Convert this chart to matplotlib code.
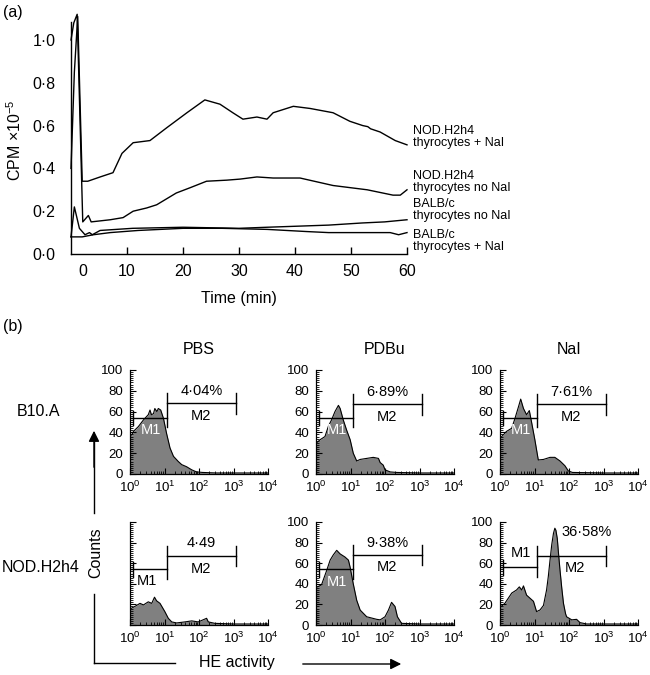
import numpy as np
import matplotlib
matplotlib.use('Agg')
import matplotlib.pyplot as plt
from matplotlib.lines import Line2D
from matplotlib.ticker import MultipleLocator, LogLocator, NullFormatter

plt.rcParams['font.family'] = ['Liberation Sans', 'DejaVu Sans']
plt.rcParams['mathtext.fontset'] = 'custom'
plt.rcParams['mathtext.rm'] = 'Liberation Sans'
plt.rcParams['mathtext.it'] = 'Liberation Sans:italic'
plt.rcParams['mathtext.bf'] = 'Liberation Sans:bold'

# ---------------- Panel (a) data ----------------
time_nod_nai = [0, 0.6, 1.2, 2.0, 3.0, 5.2, 7.5, 9.1, 11.1, 14.1, 17.1, 20.7, 23.9, 26.6, 28.9,
                30.7, 33.2, 35.0, 36.1, 39.7, 42.7, 46.8, 49.8, 52.1, 53.0, 53.5, 55.2, 57.9, 60]
cpm_nod_nai = [0.40, 0.85, 1.11, 0.34, 0.34, 0.36, 0.38, 0.47, 0.52, 0.53, 0.59, 0.66, 0.72, 0.70, 0.66,
               0.63, 0.64, 0.63, 0.66, 0.69, 0.68, 0.66, 0.62, 0.60, 0.595, 0.585, 0.57, 0.53, 0.51]

time_nod_no = [0, 0.5, 1.1, 2.1, 3.1, 3.6, 7.0, 9.3, 11.1, 13.5, 15.3, 18.8, 21.3, 24.2, 27.8,
               30.2, 33.2, 36.1, 40.9, 46.8, 52.9, 57.5, 58.8, 60]
cpm_nod_no = [1.00, 1.08, 1.12, 0.15, 0.18, 0.15, 0.16, 0.17, 0.20, 0.215, 0.23, 0.285, 0.31, 0.34, 0.345,
              0.35, 0.36, 0.355, 0.355, 0.32, 0.30, 0.275, 0.275, 0.30]

time_balb_no = [0, 0.6, 1.5, 2.5, 3.3, 3.8, 5.2, 11.0, 20.0, 30.0, 35.0, 46.0, 52.0, 56.0, 60]
cpm_balb_no = [0.08, 0.22, 0.12, 0.09, 0.10, 0.09, 0.11, 0.12, 0.125, 0.12, 0.125, 0.135, 0.145, 0.15, 0.16]

time_balb_nai = [0, 2.0, 4.0, 7.0, 12.0, 20.0, 27.0, 35.0, 42.0, 46.0, 52.0, 57.0, 58.5, 60]
cpm_balb_nai = [0.08, 0.08, 0.09, 0.10, 0.11, 0.12, 0.12, 0.115, 0.105, 0.10, 0.10, 0.10, 0.09, 0.10]

curve_labels = ['NOD.H2h4\nthyrocytes + NaI', 'NOD.H2h4\nthyrocytes no NaI',
                'BALB/c\nthyrocytes no NaI', 'BALB/c\nthyrocytes + NaI']
yticks_a = [0.0, 0.2, 0.4, 0.6, 0.8, 1.0]
xticks_a = [10, 20, 30, 40, 50, 60]

# ---------------- Panel (b) data (x in log10 units) ----------------
b10_pbs_lx = [0, 0.05, 0.1, 0.24, 0.39, 0.53, 0.58, 0.62, 0.68, 0.72, 0.78, 0.82, 0.89, 0.97, 1.06,
              1.16, 1.26, 1.4, 1.5, 1.64, 1.79, 1.93, 2.1, 2.5, 3.0, 3.5, 4.0]
b10_pbs_ct = [37, 37.5, 41, 45.5, 52, 57, 61.5, 57, 58, 63, 60, 63, 61.5, 53.5, 39,
              25, 17, 12, 9, 7, 4, 2, 1.5, 1, 1, 1, 1]

b10_pdbu_lx = [0, 0.02, 0.12, 0.26, 0.36, 0.45, 0.55, 0.65, 0.7, 0.79, 0.89, 0.99, 1.08, 1.18,
               1.28, 1.47, 1.66, 1.81, 1.86, 1.95, 2.0, 2.15, 2.34, 3.0, 4.0]
b10_pdbu_ct = [28, 30, 33, 36, 46, 52, 60, 66, 63, 52, 42, 33, 20, 12.5,
               14, 15, 16, 15, 11, 8.5, 4, 2, 1.5, 1, 1]

b10_nai_lx = [0, 0.05, 0.19, 0.34, 0.43, 0.53, 0.6, 0.68, 0.77, 0.85, 0.92, 1.01, 1.11, 1.26,
              1.45, 1.59, 1.74, 1.88, 1.98, 2.1, 3.0, 4.0]
b10_nai_ct = [34, 36, 41, 44, 53, 64, 72, 63, 57, 61, 49, 33, 13.5, 14,
              16, 16, 12.5, 8, 3, 1.5, 1, 1]

nod_pbs_lx = [0, 0.03, 0.14, 0.29, 0.39, 0.53, 0.63, 0.71, 0.77, 0.87, 1.01, 1.11, 1.21, 1.35,
              1.59, 1.79, 1.98, 2.22, 2.27, 2.46, 3.0, 4.0]
nod_pbs_ct = [15, 16, 18, 21, 19.5, 22.5, 21, 27, 23.5, 21, 13, 6.5, 3, 2,
              3, 4, 3, 6.5, 3, 1.6, 1, 1]

nod_pdbu_lx = [0, 0.04, 0.16, 0.31, 0.41, 0.5, 0.6, 0.7, 0.84, 0.94, 0.99, 1.08, 1.18, 1.28,
               1.47, 1.76, 1.86, 2.0, 2.1, 2.19, 2.29, 2.36, 2.48, 3.0, 4.0]
nod_pdbu_ct = [36, 37, 39, 53, 63, 68, 72.5, 69, 66, 63, 56, 40, 24, 14.5,
               8, 5.5, 5, 8, 14.5, 22, 18, 8, 1.6, 1, 1]

nod_nai_lx = [0, 0.03, 0.14, 0.24, 0.34, 0.48, 0.56, 0.63, 0.68, 0.77, 0.87, 0.97, 1.06, 1.16,
              1.26, 1.35, 1.40, 1.45, 1.50, 1.55, 1.59, 1.62, 1.66, 1.70, 1.74, 1.79, 1.84, 1.90,
              1.93, 2.08, 2.22, 2.32, 2.51, 3.0, 4.0]
nod_nai_ct = [17, 18, 21, 26, 31, 34, 37, 34, 38, 29, 26, 23, 13, 14.6,
              19, 34, 47, 63, 78, 89, 94, 92, 84, 68, 53, 36, 21, 11,
              8, 5, 5.5, 2.3, 1, 1, 1]

hist_lx = [b10_pbs_lx, b10_pdbu_lx, b10_nai_lx, nod_pbs_lx, nod_pdbu_lx, nod_nai_lx]
hist_ct = [b10_pbs_ct, b10_pdbu_ct, b10_nai_ct, nod_pbs_ct, nod_pdbu_ct, nod_nai_ct]
pct_labels = ['4·04%', '6·89%', '7·61%', '4·49', '9·38%', '36·58%']
m1_levels = [54, 54, 54, 54, 54, 56]
m2_levels = [68, 67, 67, 67, 68, 67]
m_boundary = 1.08   # log10 position of M1/M2 boundary
m2_end = 3.07       # log10 end of M2
col_titles = ['PBS', 'PDBu', 'NaI']
row_titles = ['B10.A', 'NOD.H2h4']

# ---------------- figure ----------------
W, H = 650, 675
fig = plt.figure(figsize=(6.5, 6.75), dpi=100)

def box(l, t, r, b):
    return [l / W, 1 - b / H, (r - l) / W, (b - t) / H]

def fx(x):
    return x / W

def fy(y):
    return 1 - y / H

BIG = 11.5

# Panel (a)
axa = fig.add_axes(box(71, 22, 407, 254))
for t, c in [(time_nod_nai, cpm_nod_nai), (time_nod_no, cpm_nod_no),
             (time_balb_no, cpm_balb_no), (time_balb_nai, cpm_balb_nai)]:
    axa.plot(t, c, color='black', lw=1.0, clip_on=False)
axa.set_xlim(0, 60)
axa.set_ylim(0, 1.084)
for s in ['top', 'right']:
    axa.spines[s].set_visible(False)
axa.spines['left'].set_linewidth(1.0)
axa.spines['bottom'].set_linewidth(1.0)
axa.set_yticks(yticks_a)
axa.set_yticklabels([f'{v:.1f}'.replace('.', '·') for v in yticks_a])
axa.tick_params(axis='y', length=0, pad=11, labelsize=BIG)
axa.set_xticks([2.1] + xticks_a)
axa.set_xticklabels(['0'] + [str(v) for v in xticks_a])
axa.tick_params(axis='x', direction='in', length=5, width=1.0, pad=7, labelsize=BIG)
axa.xaxis.get_major_ticks()[0].tick1line.set_visible(False)

fig.text(fx(239), fy(298), 'Time (min)', ha='center', va='center', fontsize=BIG)
fig.text(fx(15), fy(140), 'CPM ×10$^{-5}$', ha='center', va='center', rotation=90, fontsize=BIG)
label_y = [137, 182, 210, 241]
for lab, yy in zip(curve_labels, label_y):
    fig.text(fx(413), fy(yy), lab, ha='left', va='center', fontsize=9, linespacing=1.05)

fig.text(fx(3), fy(12), '(a)', ha='left', va='center', fontsize=BIG)
fig.text(fx(3), fy(327), '(b)', ha='left', va='center', fontsize=BIG)

# Panel (b)
col_left = [130, 316, 500]
row_top = [370, 522]
row_bot = [474, 625]
SMALL = 9.5
MLAB = 10.5
for i in range(6):
    r, c = divmod(i, 3)
    ax = fig.add_axes(box(col_left[c], row_top[r], col_left[c] + 138, row_bot[r]))
    x = 10 ** np.array(hist_lx[i])
    y = np.array(hist_ct[i])
    ax.fill_between(x, 0, y, color='#808080', lw=0)
    ax.plot(x, y, color='black', lw=0.8)
    ax.set_xscale('log')
    ax.set_xlim(1, 1e4)
    ax.set_ylim(0, 100)
    for s in ['top', 'right']:
        ax.spines[s].set_visible(False)
    ax.spines['left'].set_linewidth(0.9)
    ax.spines['bottom'].set_linewidth(0.9)
    ax.xaxis.set_major_locator(LogLocator(base=10, numticks=10))
    ax.xaxis.set_minor_locator(LogLocator(base=10, subs=np.arange(2, 10), numticks=10))
    ax.xaxis.set_minor_formatter(NullFormatter())
    ax.yaxis.set_major_locator(MultipleLocator(20))
    ax.yaxis.set_minor_locator(MultipleLocator(2))
    ax.tick_params(axis='both', which='major', direction='in', length=4, width=0.8, labelsize=SMALL)
    ax.tick_params(axis='both', which='minor', direction='in', length=2.5, width=0.6)
    ax.tick_params(axis='x', pad=4)
    ax.tick_params(axis='y', pad=5)
    if i == 3:
        ax.set_yticklabels([])

    m1 = m1_levels[i]
    m2 = m2_levels[i]
    xb = 10 ** m_boundary
    xe = 10 ** m2_end
    xs = 10 ** 0.1
    kw = dict(color='black', lw=1.0)
    ax.plot([1, xb], [m1, m1], **kw)
    ax.plot([xs, xs], [m1 - 7, m1 + 7], **kw)
    ax.plot([xb, xe], [m2, m2], **kw)
    ax.plot([xb, xb], [m1 - 9, m2 + 10], **kw)
    ax.plot([xe, xe], [m2 - 10, m2 + 10], **kw)

    if i == 5:
        ax.text(10 ** 2.5, 90, pct_labels[i], ha='center', va='center', fontsize=MLAB)
        ax.text(10 ** 2.17, 55, 'M2', ha='center', va='center', fontsize=MLAB)
        ax.text(10 ** 0.6, 70, 'M1', ha='center', va='center', fontsize=MLAB, color='black')
    elif i == 3:
        ax.text(10 ** 2.07, 80, pct_labels[i], ha='center', va='center', fontsize=MLAB)
        ax.text(10 ** 2.07, 54, 'M2', ha='center', va='center', fontsize=MLAB)
        ax.text(10 ** 0.5, 43, 'M1', ha='center', va='center', fontsize=MLAB, color='black')
    else:
        ax.text(10 ** 2.07, m2 + 12, pct_labels[i], ha='center', va='center', fontsize=MLAB)
        ax.text(10 ** 2.07, m2 - 12, 'M2', ha='center', va='center', fontsize=MLAB)
        ax.text(10 ** 0.6, 42, 'M1', ha='center', va='center', fontsize=MLAB, color='white')

    if r == 0:
        ax.text(0.5, 1.0 + 20 / 104, col_titles[c], transform=ax.transAxes,
                ha='center', va='center', fontsize=BIG)

fig.text(fx(17), fy(411), row_titles[0], ha='left', va='center', fontsize=BIG)
fig.text(fx(2), fy(568), row_titles[1], ha='left', va='center', fontsize=BIG)

# Axis-direction decorations
fig.text(fx(96), fy(553), 'Counts', ha='center', va='center', rotation=90, fontsize=BIG)
fig.text(fx(237), fy(663), 'HE activity', ha='center', va='center', fontsize=BIG)
fig.add_artist(Line2D([fx(94), fx(94)], [fy(594), fy(663)], color='black', lw=1.0))
fig.add_artist(Line2D([fx(94), fx(175)], [fy(663), fy(663)], color='black', lw=1.0))
fig.add_artist(Line2D([fx(94), fx(94)], [fy(513), fy(440)], color='black', lw=1.0))
fig.patches.append(matplotlib.patches.FancyArrowPatch(
    (fx(94), fy(470)), (fx(94), fy(428)), transform=fig.transFigure, figure=fig,
    arrowstyle='-|>', mutation_scale=16, lw=1.0, color='black'))
fig.patches.append(matplotlib.patches.FancyArrowPatch(
    (fx(300), fy(664)), (fx(404), fy(664)), transform=fig.transFigure, figure=fig,
    arrowstyle='-|>', mutation_scale=16, lw=1.0, color='black'))

fig.savefig('out.png', dpi=100, facecolor='white')
